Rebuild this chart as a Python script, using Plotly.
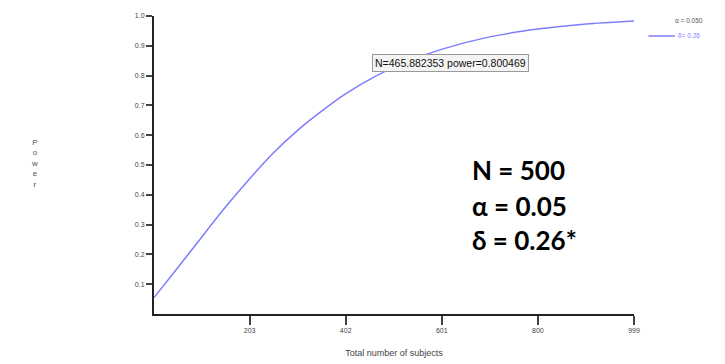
import plotly.graph_objects as go

# Values
total_subjects = [5, 50, 100, 150, 200, 250, 300, 350, 400, 466, 530, 600, 700, 800, 900, 999]
power = [0.055, 0.147, 0.25, 0.353, 0.448, 0.537, 0.613, 0.678, 0.737, 0.80, 0.847, 0.888,
         0.93, 0.956, 0.973, 0.983]
x_ticks = [203, 402, 601, 800, 999]
y_ticks = [0.1, 0.2, 0.3, 0.4, 0.5, 0.6, 0.7, 0.8, 0.9, 1.0]
marked_n = 465.882353
marked_power = 0.800469

LINE = "#7d7dff"
TICKFONT = dict(family="Liberation Sans, Arial", size=7, color="#444444")

fig = go.Figure()
fig.add_trace(go.Scatter(x=total_subjects, y=power, mode="lines",
                         line=dict(color=LINE, width=1.5, shape="spline", smoothing=0.7),
                         hoverinfo="skip", showlegend=False))

fig.update_layout(
    width=717, height=356,
    margin=dict(l=146, r=91, t=4, b=50),
    paper_bgcolor="white", plot_bgcolor="white",
    xaxis=dict(range=[5, 999], tickvals=x_ticks, ticktext=[str(v) for v in x_ticks],
               showgrid=False, zeroline=False, showline=True, linecolor="#222222", linewidth=2,
               ticks="outside", ticklen=9, tickwidth=1.5, tickcolor="#444444",
               tickfont=TICKFONT,
               title=dict(text="Total number of subjects",
                          font=dict(family="Liberation Sans, Arial", size=9, color="#444444"),
                          standoff=16)),
    yaxis=dict(range=[0, 1.0], tickvals=y_ticks, ticktext=["%.1f" % v for v in y_ticks],
               showgrid=False, zeroline=False, showline=True, linecolor="#222222", linewidth=2,
               ticks="outside", ticklen=6, tickwidth=1.5, tickcolor="#444444",
               tickfont=TICKFONT),
)

# Y axis title as stacked letters
fig.add_annotation(xref="paper", yref="paper", x=-0.248, y=0.505,
                   text="P<br>o<br>w<br>e<br>r", showarrow=False,
                   font=dict(family="Liberation Sans, Arial", size=8, color="#555555"),
                   xanchor="center", yanchor="middle", align="center")

# Marked point label
fig.add_annotation(x=marked_n, y=marked_power,
                   text="N=%.6f power=%.6f" % (marked_n, marked_power),
                   showarrow=False, xanchor="left", yanchor="bottom", xshift=-5, yshift=3,
                   font=dict(family="Liberation Sans, Arial", size=10.5, color="#111111"),
                   bgcolor="#f4f4f4", bordercolor="#999999", borderwidth=1, borderpad=2)

# Legend (top right)
fig.add_annotation(xref="paper", yref="paper", x=1.082, y=0.985, text="α = 0.050",
                   showarrow=False, xanchor="left", yanchor="middle",
                   font=dict(family="Liberation Sans, Arial", size=6.5, color="#555555"))
fig.add_shape(type="line", xref="paper", yref="paper", x0=1.03, x1=1.085, y0=0.933, y1=0.933,
              line=dict(color=LINE, width=1.5))
fig.add_annotation(xref="paper", yref="paper", x=1.088, y=0.933, text="δ= 0.26",
                   showarrow=False, xanchor="left", yanchor="middle",
                   font=dict(family="Liberation Sans, Arial", size=6.5, color=LINE))

# Big parameter text
BIG = dict(family="Lato, Carlito, Calibri, sans-serif", size=26, color="black")
for txt, yy in [("<b>N = 500</b>", 0.482), ("<b>α = 0.05</b>", 0.362), ("<b>δ = 0.26*</b>", 0.248)]:
    fig.add_annotation(xref="paper", yref="paper", x=0.658, y=yy, text=txt, showarrow=False,
                       xanchor="left", yanchor="middle", font=BIG)

fig.write_html("out.html")
